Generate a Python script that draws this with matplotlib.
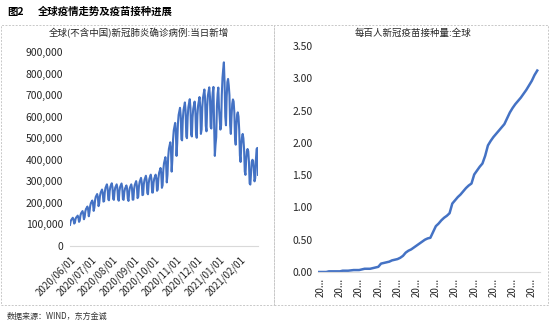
import pandas as pd
import matplotlib
matplotlib.use("Agg")
import matplotlib.pyplot as plt
import matplotlib.dates as mdates
from matplotlib.patches import Rectangle
from matplotlib.ticker import FuncFormatter

plt.rcParams['font.family'] = ['Noto Sans CJK SC', 'DejaVu Sans']

# Daily new confirmed cases outside China (thousands), Mon..Sun, from 2020-06-01
cases_k = [
    98, 115, 122, 126, 131, 123, 104,
    108, 126, 133, 136, 141, 132, 112,
    118, 142, 152, 157, 162, 150, 124,
    133, 160, 172, 177, 183, 170, 138,
    158, 186, 199, 205, 211, 198, 163,
    178, 212, 228, 234, 241, 226, 185,
    198, 232, 247, 254, 262, 246, 206,
    208, 250, 270, 278, 286, 268, 216,
    212, 255, 275, 283, 291, 272, 219,
    214, 252, 271, 278, 286, 270, 220,
    210, 254, 274, 282, 290, 273, 217,
    214, 250, 266, 273, 281, 266, 220,
    209, 250, 270, 278, 286, 269, 215,
    215, 262, 283, 292, 301, 281, 222,
    228, 276, 297, 306, 316, 296, 236,
    238, 286, 307, 316, 326, 306, 246,
    240, 290, 312, 321, 331, 310, 248,
    248, 293, 313, 322, 331, 313, 256,
    262, 315, 340, 350, 362, 338, 270,
    282, 352, 384, 398, 412, 383, 295,
    330, 412, 450, 465, 481, 448, 345,
    400, 494, 536, 553, 571, 533, 418,
    478, 568, 608, 624, 641, 605, 495,
    490, 587, 630, 648, 666, 628, 508,
    500, 598, 644, 662, 681, 641, 518,
    508, 596, 636, 652, 670, 632, 525,
    502, 606, 652, 671, 691, 648, 520,
    540, 642, 688, 706, 726, 685, 558,
    532, 645, 697, 716, 736, 693, 552,
    545, 665, 712, 738, 560, 418, 470,
    505, 650, 705, 735, 640, 590, 540,
    560, 700, 780, 820, 852, 760, 600,
    560, 690, 760, 775, 745, 700, 560,
    520, 600, 660, 680, 670, 620, 500,
    470, 560, 610, 620, 600, 540, 420,
    390, 470, 505, 520, 500, 450, 345,
    330, 400, 440, 450, 440, 390, 290,
    285, 340, 390, 400, 395, 360, 300,
    315, 400, 450, 455, 330,
]
case_dates = pd.date_range('2020-06-01', periods=len(cases_k), freq='D')
month_ticks = pd.date_range('2020-06-01', '2021-02-01', freq='MS')

# Vaccine doses per hundred people, world
doses = [
    0.00, 0.00, 0.00, 0.00, 0.01, 0.01, 0.01, 0.01, 0.01, 0.02, 0.02, 0.02,
    0.025, 0.03, 0.03, 0.03, 0.04, 0.05, 0.05, 0.05, 0.06, 0.07, 0.08,
    0.13, 0.14, 0.15, 0.16, 0.18, 0.19, 0.20,
    0.22, 0.25, 0.30, 0.33, 0.35,
    0.38, 0.41, 0.44, 0.47, 0.50,
    0.52, 0.53, 0.62, 0.71, 0.75,
    0.80, 0.84, 0.87, 0.91, 1.06,
    1.11, 1.16, 1.20, 1.25, 1.30,
    1.34, 1.37, 1.51, 1.57, 1.63,
    1.68, 1.80, 1.96, 2.03, 2.09,
    2.14, 2.19, 2.24, 2.29, 2.38,
    2.47, 2.54, 2.60, 2.65, 2.70,
    2.76, 2.82, 2.89, 2.96, 3.05, 3.12,
]
dose_ticks = list(range(1, len(doses), 7))
dose_labels = ['20...'] * len(dose_ticks)

blue = '#4472C4'
txt = '#262626'
W, H = 550, 323

fig = plt.figure(figsize=(5.5, 3.23), dpi=100)

# dotted frames around the two panels
for x0, x1 in [(1, 274), (274, 548)]:
    fig.add_artist(Rectangle((x0 / W, 1 - 305 / H), (x1 - x0) / W, 280 / H,
                             transform=fig.transFigure, fill=False,
                             ec='#c8c8c8', lw=0.7, ls=(0, (2, 1.5))))

fig.text(7 / W, 1 - 12 / H, '图2', fontsize=7.5, fontweight='bold',
         va='center', ha='left', color='#000000')
fig.text(38 / W, 1 - 12 / H, '全球疫情走势及疫苗接种进展', fontsize=7.5,
         fontweight='bold', va='center', ha='left', color='#000000')
fig.text(7 / W, 1 - 316 / H, '数据来源：WIND，东方金诚', fontsize=5.8,
         va='center', ha='left', color='#333333')

# left: daily new cases
ax1 = fig.add_axes([70 / W, 1 - 246 / H, 188 / W, 194 / H])
ax1.plot(case_dates, [v * 1000 for v in cases_k], color=blue, lw=1.5)
ax1.set_ylim(0, 900000)
ax1.set_yticks(range(0, 900001, 100000))
ax1.yaxis.set_major_formatter(FuncFormatter(lambda v, p: f'{int(v):,}'))
ax1.set_xlim(case_dates[0], case_dates[-1])
ax1.set_xticks(month_ticks)
ax1.xaxis.set_major_formatter(mdates.DateFormatter('%Y/%m/%d'))
for lab in ax1.get_xticklabels():
    lab.set_rotation(45)
    lab.set_ha('right')
    lab.set_rotation_mode('anchor')
ax1.tick_params(axis='y', length=0, pad=5, labelsize=7.5, labelcolor=txt)
ax1.tick_params(axis='x', length=0, pad=6, labelsize=7, labelcolor=txt)
fig.text(139 / W, 1 - 33 / H, '全球(不含中国)新冠肺炎确诊病例:当日新增',
         fontsize=6.8, ha='center', va='center', color=txt)

# right: vaccine doses per hundred
ax2 = fig.add_axes([318 / W, 1 - 272 / H, 222 / W, 226 / H])
ax2.plot(range(len(doses)), doses, color=blue, lw=1.8)
ax2.set_ylim(0, 3.5)
ax2.set_yticks([0, 0.5, 1, 1.5, 2, 2.5, 3, 3.5])
ax2.yaxis.set_major_formatter(FuncFormatter(lambda v, p: f'{v:.2f}'))
ax2.set_xlim(0, len(doses))
ax2.set_xticks(dose_ticks)
ax2.set_xticklabels(dose_labels, rotation=90)
ax2.tick_params(axis='y', length=0, pad=4, labelsize=7.5, labelcolor=txt)
ax2.tick_params(axis='x', length=0, pad=4, labelsize=7, labelcolor=txt)
fig.text(413 / W, 1 - 33 / H, '每百人新冠疫苗接种量:全球',
         fontsize=6.8, ha='center', va='center', color=txt)

for ax in (ax1, ax2):
    for s in ('top', 'right', 'left'):
        ax.spines[s].set_visible(False)
    ax.spines['bottom'].set_color('#d9d9d9')
    ax.spines['bottom'].set_linewidth(0.8)
    ax.set_facecolor('none')

fig.savefig('out.png', dpi=100)
